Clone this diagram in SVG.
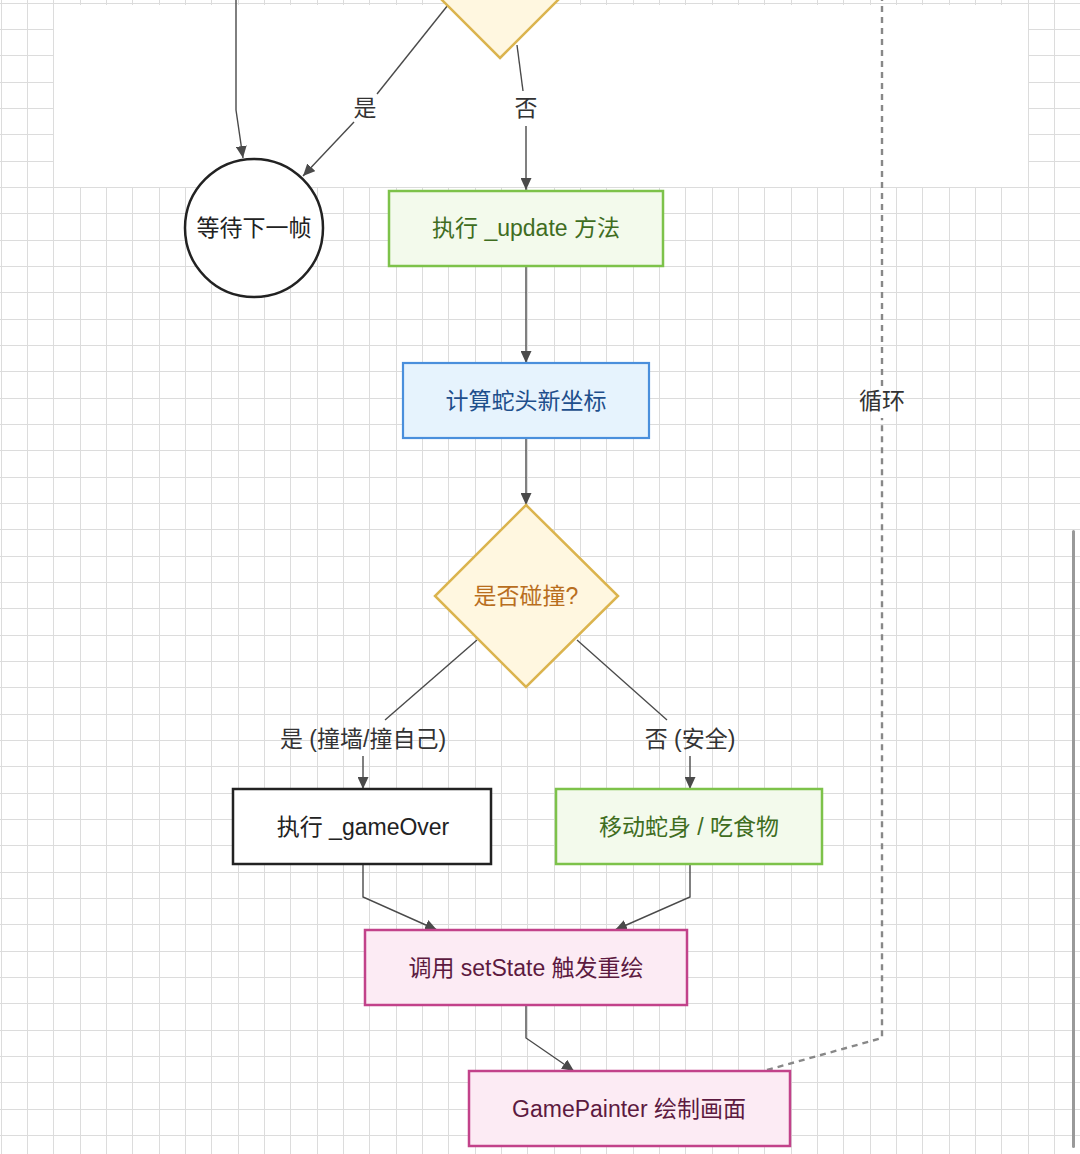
<svg xmlns="http://www.w3.org/2000/svg" width="1080" height="1154" viewBox="0 0 1080 1154">
  <style>
    text { font-family: "Liberation Sans", "Noto Sans CJK SC", sans-serif; font-size: 23px; text-anchor: middle; dominant-baseline: central; }
    .grid { fill: none; stroke: #dcdcdc; stroke-width: 1; shape-rendering: crispEdges; }
    .conn { fill: none; stroke: #4a4a4a; stroke-width: 1.4; }
    .loop { fill: none; stroke: #888888; stroke-width: 2.4; stroke-dasharray: 6 5; }
    .green rect { fill: #f3faec; stroke: #7dc24a; stroke-width: 2.5; }
    .green text { fill: #3f6d1f; }
    .blue rect { fill: #e6f3fd; stroke: #4a8fdc; stroke-width: 2.2; }
    .blue text { fill: #1e4f8c; }
    .dia polygon { fill: #fff7e0; stroke: #dbb44e; stroke-width: 2.5; }
    .dia text { fill: #b86e1e; }
    .pink rect { fill: #fcebf4; stroke: #c2428a; stroke-width: 2.5; }
    .pink text { fill: #5c1a40; }
    .plain rect, .plain circle { fill: #ffffff; stroke: #222; stroke-width: 2.5; }
    .plain text { fill: #222; }
    .lbl { fill: #333; }
  </style>
  <defs>
    <marker id="arr" markerUnits="userSpaceOnUse" markerWidth="13" markerHeight="11" refX="12" refY="5.5" orient="auto">
      <path d="M0,0 L12,5.5 L0,11 Z" fill="#4a4a4a"/>
    </marker>
  </defs>

  <rect x="0" y="0" width="1080" height="1154" fill="#ffffff"/>
  <path class="grid" d="M1.5,0V1154 M27.5,0V1154 M53.5,0V1154 M80.5,0V1154 M106.5,0V1154 M132.5,0V1154 M159.5,0V1154 M185.5,0V1154 M211.5,0V1154 M238.5,0V1154 M264.5,0V1154 M290.5,0V1154 M317.5,0V1154 M343.5,0V1154 M369.5,0V1154 M396.5,0V1154 M422.5,0V1154 M448.5,0V1154 M475.5,0V1154 M501.5,0V1154 M527.5,0V1154 M554.5,0V1154 M580.5,0V1154 M606.5,0V1154 M633.5,0V1154 M659.5,0V1154 M685.5,0V1154 M712.5,0V1154 M738.5,0V1154 M764.5,0V1154 M791.5,0V1154 M817.5,0V1154 M843.5,0V1154 M870.5,0V1154 M896.5,0V1154 M922.5,0V1154 M949.5,0V1154 M975.5,0V1154 M1001.5,0V1154 M1028.5,0V1154 M1054.5,0V1154
    M0,3.5H1080 M0,29.5H1080 M0,55.5H1080 M0,82.5H1080 M0,108.5H1080 M0,134.5H1080 M0,161.5H1080 M0,187.5H1080 M0,213.5H1080 M0,240.5H1080 M0,266.5H1080 M0,292.5H1080 M0,319.5H1080 M0,345.5H1080 M0,371.5H1080 M0,398.5H1080 M0,424.5H1080 M0,450.5H1080 M0,477.5H1080 M0,503.5H1080 M0,529.5H1080 M0,556.5H1080 M0,582.5H1080 M0,608.5H1080 M0,635.5H1080 M0,661.5H1080 M0,687.5H1080 M0,714.5H1080 M0,740.5H1080 M0,766.5H1080 M0,793.5H1080 M0,819.5H1080 M0,845.5H1080 M0,872.5H1080 M0,898.5H1080 M0,924.5H1080 M0,951.5H1080 M0,977.5H1080 M0,1003.5H1080 M0,1030.5H1080 M0,1056.5H1080 M0,1082.5H1080 M0,1109.5H1080 M0,1135.5H1080"/>
  <rect x="54" y="5" width="974" height="182" fill="#ffffff"/>
  <rect x="1072" y="530" width="3" height="618" rx="1.5" fill="#999999"/>

  <g id="connectors">
    <path class="conn" d="M236,0 L236,110 L243,158" marker-end="url(#arr)"/>
    <path class="conn" d="M448,5 L377,94"/>
    <path class="conn" d="M354,122 L303,176" marker-end="url(#arr)"/>
    <path class="conn" d="M517,45 L523,91"/>
    <path class="conn" d="M526,126 L526,190" marker-end="url(#arr)"/>
    <path class="conn" d="M526,266 L526,363" marker-end="url(#arr)"/>
    <path class="conn" d="M526,438 L526,505" marker-end="url(#arr)"/>
    <path class="conn" d="M477,640 L385,720"/>
    <path class="conn" d="M363,756 L363,789" marker-end="url(#arr)"/>
    <path class="conn" d="M577,640 L667,720"/>
    <path class="conn" d="M690,756 L690,789" marker-end="url(#arr)"/>
    <path class="conn" d="M363,864 L363,897 L437,930" marker-end="url(#arr)"/>
    <path class="conn" d="M690,864 L690,897 L615,930" marker-end="url(#arr)"/>
    <path class="conn" d="M526,1005 L526,1038 L574,1071" marker-end="url(#arr)"/>
    <path class="loop" d="M767,1070 L882,1038 L882,418"/>
    <path class="loop" d="M882,386 L882,0"/>
    <text class="lbl" x="365" y="108">是</text>
    <text class="lbl" x="526" y="108">否</text>
    <text class="lbl" x="363" y="739">是 (撞墙/撞自己)</text>
    <text class="lbl" x="690" y="739">否 (安全)</text>
    <text class="lbl" x="882" y="401">循环</text>
  </g>

  <g id="node-check-top" class="dia">
    <polygon points="500,58 591,-33 500,-124 409,-33"/>
  </g>
  <g id="node-wait" class="plain">
    <circle cx="254" cy="228" r="69"/>
    <text x="254" y="228">等待下一帧</text>
  </g>
  <g id="node-update" class="green">
    <rect x="389" y="191" width="274" height="75"/>
    <text x="526" y="228">执行 _update 方法</text>
  </g>
  <g id="node-calc" class="blue">
    <rect x="403" y="363" width="246" height="75"/>
    <text x="526" y="401">计算蛇头新坐标</text>
  </g>
  <g id="node-collide" class="dia">
    <polygon points="526,505 618,596 526,687 435,596"/>
    <text x="526" y="596">是否碰撞?</text>
  </g>
  <g id="node-gameover" class="plain">
    <rect x="233" y="789" width="258" height="75"/>
    <text x="363" y="827">执行 _gameOver</text>
  </g>
  <g id="node-move" class="green">
    <rect x="556" y="789" width="266" height="75"/>
    <text x="689" y="827">移动蛇身 / 吃食物</text>
  </g>
  <g id="node-setstate" class="pink">
    <rect x="365" y="930" width="322" height="75"/>
    <text x="526" y="968">调用 setState 触发重绘</text>
  </g>
  <g id="node-painter" class="pink">
    <rect x="469" y="1071" width="321" height="75"/>
    <text x="629" y="1109">GamePainter 绘制画面</text>
  </g>
</svg>
